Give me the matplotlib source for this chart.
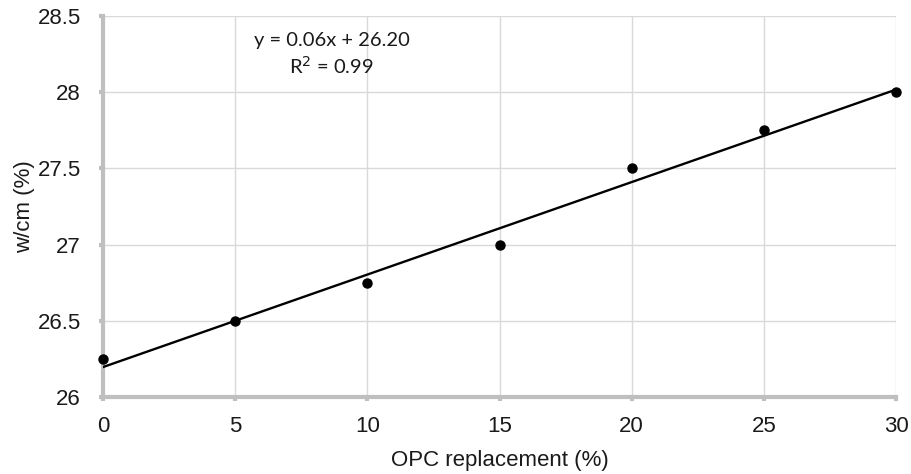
import numpy as np
import matplotlib.pyplot as plt

# data
opc = [0, 5, 10, 15, 20, 25, 30]
wcm = [26.25, 26.5, 26.75, 27.0, 27.5, 27.75, 28.0]
xticks = [0, 5, 10, 15, 20, 25, 30]
yticks = [26, 26.5, 27, 27.5, 28, 28.5]
ytick_labels = ['26', '26.5', '27', '27.5', '28', '28.5']

plt.rcParams['font.family'] = ['Liberation Sans', 'DejaVu Sans']

fig = plt.figure(figsize=(9.12, 4.74), dpi=100)
ax = fig.add_axes([0.113, 0.1625, 0.8695, 0.8035])

# linear trend
k, b = np.polyfit(opc, wcm, 1)
r2 = np.corrcoef(opc, wcm)[0, 1]**2
xx = np.array([min(opc), max(opc)])
ax.plot(xx, k*xx+b, color='black', lw=1.7, zorder=3)
ax.plot(opc, wcm, 'o', color='black', ms=6.5, zorder=4, clip_on=False)

ax.set_xlim(0, 30)
ax.set_ylim(26, 28.5)
ax.set_xticks(xticks)
ax.set_yticks(yticks)
ax.set_yticklabels(ytick_labels)
ax.grid(True, color='#d9d9d9', lw=1)
ax.set_axisbelow(True)

for s in ['top', 'right']:
    ax.spines[s].set_visible(False)
for s in ['left', 'bottom']:
    ax.spines[s].set_color('#bfbfbf')
    ax.spines[s].set_linewidth(3)
ax.tick_params(length=3, width=3, color='#bfbfbf', labelsize=16,
               labelcolor='#1a1a1a')
ax.tick_params(axis='x', pad=11)
ax.tick_params(axis='y', pad=13)

ax.set_xlabel('OPC replacement (%)', fontsize=16, color='#1a1a1a', labelpad=9)
ax.set_ylabel('w/cm (%)', fontsize=16, color='#1a1a1a', labelpad=2)

ax.text(0.2885, 0.90, 'y = %.2fx + %.2f\nR$^2$ = %.2f' % (k, b, r2),
        transform=ax.transAxes, ha='center', va='center',
        fontsize=14.5, family=['Lato', 'DejaVu Sans'], linespacing=1.3,
        color='#1a1a1a')

fig.savefig('out.png', dpi=100)
